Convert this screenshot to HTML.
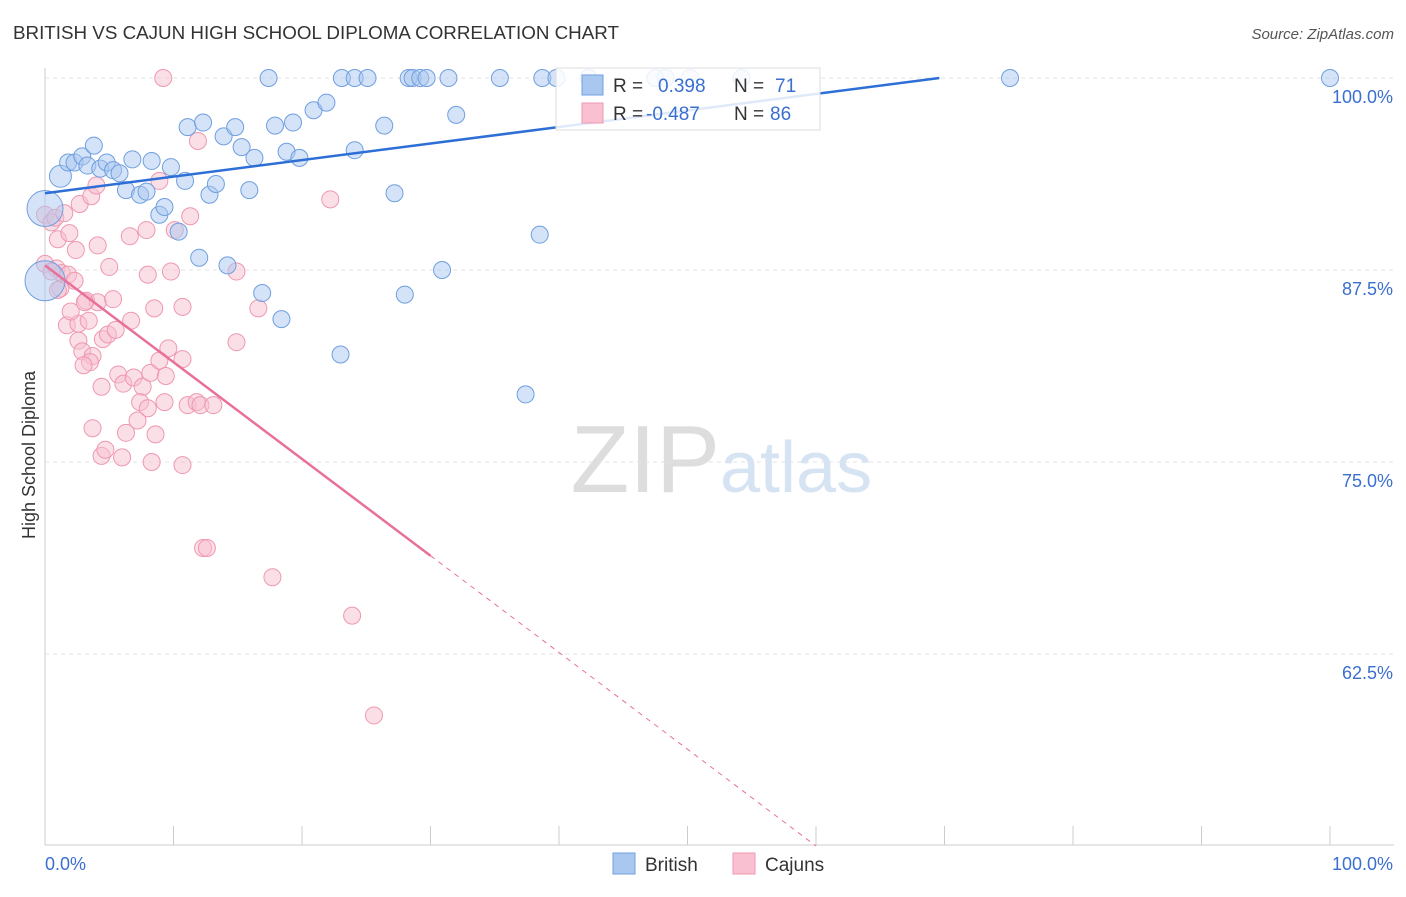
<!DOCTYPE html>
<html><head><meta charset="utf-8"><style>
body{margin:0;background:#fff;font-family:"Liberation Sans",sans-serif;}
svg text{font-family:"Liberation Sans",sans-serif;}
</style></head><body>
<svg width="1406" height="892" xmlns="http://www.w3.org/2000/svg">
<text x="13" y="39" font-size="18.8" fill="#333">BRITISH VS CAJUN HIGH SCHOOL DIPLOMA CORRELATION CHART</text>
<text x="1394" y="39" font-size="15" fill="#555" font-style="italic" text-anchor="end">Source: ZipAtlas.com</text>
<text x="720" y="492" font-size="96" fill="#ddd" text-anchor="end" font-family="Liberation Serif">ZIP</text>
<text x="720" y="492" font-size="72" fill="#d6e3f3">atlas</text>
<g id="grid"></g>
<g id="axes"></g>
<text x="35" y="455" font-size="18" fill="#333" text-anchor="middle" transform="rotate(-90 35 455)">High School Diploma</text>
<g id="pts"></g>
<g id="lines"></g>
<g>
<rect x="556" y="68" width="264" height="62" fill="#fff" fill-opacity="0.85" stroke="#ddd"/>
<rect x="582" y="75" width="21" height="20" fill="#a9c8f0" stroke="#6f9fe0"/>
<rect x="582" y="103" width="21" height="20" fill="#f8c0d0" stroke="#ee98b0"/>
<text x="613" y="92" font-size="19" fill="#333">R =</text><text x="658" y="92" font-size="19" fill="#3a6fd0">0.398</text>
<text x="734" y="92" font-size="19" fill="#333">N =</text><text x="775" y="92" font-size="19" fill="#3a6fd0">71</text>
<text x="613" y="120" font-size="19" fill="#333">R =</text><text x="646" y="120" font-size="19" fill="#3a6fd0">-0.487</text>
<text x="734" y="120" font-size="19" fill="#333">N =</text><text x="770" y="120" font-size="19" fill="#3a6fd0">86</text>
</g>
<g>
<rect x="613" y="853" width="22" height="21" fill="#a9c8f0" stroke="#6f9fe0"/>
<text x="645" y="871" font-size="19" fill="#333">British</text>
<rect x="733" y="853" width="22" height="21" fill="#f8c0d0" stroke="#ee98b0"/>
<text x="765" y="871" font-size="19" fill="#333">Cajuns</text>
</g>
</svg>
<script>
const xTicks=[0,10,20,30,40,50,60,70,80,90,100];
const yTicks=[100,87.5,75,62.5];
const yTickLabels=["100.0%","87.5%","75.0%","62.5%"];
const britishX=[1.2,0,0,1.8,2.3,2.9,3.8,3.3,4.3,4.8,5.3,5.8,6.3,6.8,7.4,7.9,8.3,8.9,9.3,9.8,10.4,10.9,11.1,12,12.3,12.8,13.3,13.9,14.2,14.8,15.3,15.9,16.3,16.9,17.4,17.9,18.4,18.8,19.3,19.8,20.9,21.9,23,23.1,24.1,24.1,25.1,26.4,27.2,28,28.3,28.6,29.2,29.7,30.9,31.4,32,35.4,37.4,38.5,38.7,39.8,42.3,47.5,48.3,50.2,54.2,75.1,100];
const britishY=[93.6,91.5,86.8,94.5,94.5,94.9,95.6,94.3,94.1,94.5,94.0,93.8,92.7,94.7,92.4,92.6,94.6,91.1,91.6,94.2,90.0,93.3,96.8,88.3,97.1,92.4,93.1,96.2,87.8,96.8,95.5,92.7,94.8,86.0,100,96.9,84.3,95.2,97.1,94.8,97.9,98.4,82.0,100,95.3,100,100,96.9,92.5,85.9,100,100,100,100,87.5,100,97.6,100,79.4,89.8,100,100,100,100,100,100,100,100,100];
const cajunX=[9.2,11.9,0,0.5,0.8,1,1.5,1.9,2.4,2.7,3.6,4,4.1,0,0.9,1.3,1.8,2.3,1.2,3.2,4.1,3.1,5.3,1.7,2.6,3.4,2,5,6.6,7.9,8.9,10.1,11.3,8,9.8,8.5,10.7,14.9,16.6,14.9,22.2,2.6,2.9,3.7,3.5,3,4.5,4.9,5.5,6.7,5.7,4.4,6.1,6.9,7.6,8.2,8.9,9.6,10.7,9.4,7.4,8,9.3,11.1,11.8,12.1,13.1,3.7,4.4,4.7,6.3,7.2,8.6,6,8.3,10.7,12.3,12.6,17.7,23.9,25.6,0.5,1];
const cajunY=[100,95.9,91.1,90.6,90.9,89.5,91.2,89.9,88.8,91.8,92.3,93.0,89.1,87.9,87.6,87.3,87.2,86.8,86.3,85.5,85.4,85.4,85.6,83.9,84.0,84.2,84.8,87.7,89.7,90.1,93.3,90.1,91.0,87.2,87.4,85.0,85.1,87.4,85.0,82.8,92.1,82.9,82.2,81.9,81.5,81.3,83.0,83.3,83.6,84.2,80.7,79.9,80.1,80.5,79.9,80.8,81.6,82.4,81.7,80.6,78.9,78.5,78.9,78.7,78.9,78.7,78.7,77.2,75.4,75.8,76.9,77.7,76.8,75.3,75.0,74.8,69.4,69.4,67.5,65.0,58.5,87.4,86.2];
const britishSize=[]; britishSize[0]=11; britishSize[1]=18; britishSize[2]=20;
const X=v=>45+v*12.85, Y=v=>78+(100-v)*15.36;
const ns="http://www.w3.org/2000/svg";
function mk(t,a,p){const e=document.createElementNS(ns,t);for(const k in a)e.setAttribute(k,a[k]);p.appendChild(e);return e;}
const grid=document.getElementById('grid'),axes=document.getElementById('axes');
yTicks.forEach((v,i)=>{const l=mk('line',{x1:45,x2:1394,y1:Y(v),y2:Y(v),stroke:'#e3e3e3','stroke-dasharray':'4,4'},grid);


const t=mk('text',{x:1393,y:Y(v)+25,'font-size':18,fill:'#3a6fd0','text-anchor':'end'},grid);t.textContent=yTickLabels[i];

});
const ax=mk('line',{x1:45,x2:1394,y1:845,y2:845,stroke:'#ccc'},axes);


const ay=mk('line',{x1:45,x2:45,y1:68,y2:845,stroke:'#ccc'},axes);


xTicks.forEach(v=>{const l=mk('line',{x1:X(v),x2:X(v),y1:826,y2:845,stroke:'#ccc'},axes);

});
[["0.0%",45,'start'],["100.0%",1393,'end']].forEach(d=>{const t=mk('text',{x:d[1],y:870,'font-size':18,fill:'#3a6fd0','text-anchor':d[2]},axes);t.textContent=d[0];

});
const pts=document.getElementById('pts');
cajunX.forEach((v,i)=>{const c=mk('circle',{cx:X(v),cy:Y(cajunY[i]),r:8.5,fill:'#f8c0d0','fill-opacity':0.5,stroke:'#ee98b0'},pts);

});
britishX.forEach((v,i)=>{const c=mk('circle',{cx:X(v),cy:Y(britishY[i]),r:britishSize[i]||8.5,fill:'#a9c8f0','fill-opacity':0.5,stroke:'#6f9fe0'},pts);

});
const lines=document.getElementById('lines');
const b=mk('line',{x1:X(0),y1:Y(92.5),x2:X(69.6),y2:Y(100),stroke:'#2d6fd6','stroke-width':2.5},lines);


const c1=mk('line',{x1:X(0),y1:Y(87.8),x2:X(30),y2:Y(68.9),stroke:'#e8709a','stroke-width':2.5},lines);


const c2=mk('line',{x1:X(30),y1:Y(68.9),x2:X(60),y2:Y(50),stroke:'#e8709a','stroke-width':1,'stroke-dasharray':'5,5'},lines);


</script>
</body></html>
